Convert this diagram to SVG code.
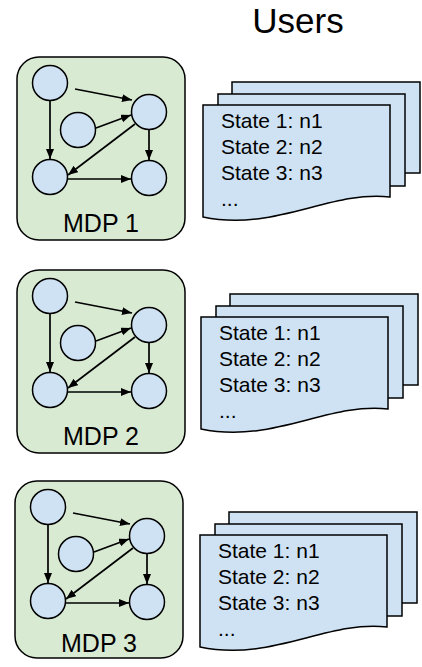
<svg xmlns="http://www.w3.org/2000/svg" width="422" height="667" viewBox="0 0 422 667">
<defs>
<style>
.box{fill:#d9ead3;stroke:#000;stroke-width:1.5}
.st{fill:#cfe2f3;stroke:#000;stroke-width:1.5}
.pg{fill:#cfe2f3;stroke:#000;stroke-width:1.5}
.e{stroke:#000;stroke-width:1.7;fill:none;marker-end:url(#ah)}
.lbl{font-family:"Liberation Sans",Arial,sans-serif;font-size:25px;fill:#000;text-anchor:middle}
.dt{font-family:"Liberation Sans",Arial,sans-serif;font-size:21px;fill:#000}
.ttl{font-family:"Liberation Sans",Arial,sans-serif;font-size:35px;fill:#000;text-anchor:middle}
</style>
<marker id="ah" markerUnits="userSpaceOnUse" markerWidth="11" markerHeight="9" refX="10" refY="4" orient="auto">
<path d="M0,0 L10,4 L0,8 z" fill="#000"/>
</marker>
</defs>
<rect width="422" height="667" fill="#fff"/>
<text class="ttl" x="298" y="33">Users</text>

<g id="mdp1">
<rect class="box" x="17" y="57" width="168" height="183" rx="22"/>
<circle class="st" cx="50" cy="83" r="17.5"/>
<circle class="st" cx="149" cy="112" r="17.5"/>
<circle class="st" cx="78" cy="130" r="17.5"/>
<circle class="st" cx="50" cy="177" r="17.5"/>
<circle class="st" cx="149" cy="178" r="17.5"/>
<g class="edges">
<line class="e" x1="50" y1="101" x2="50" y2="159"/>
<line class="e" x1="75" y1="89" x2="132" y2="100"/>
<line class="e" x1="96" y1="128" x2="131" y2="115"/>
<line class="e" x1="135" y1="124" x2="68" y2="175"/>
<line class="e" x1="68" y1="179" x2="131" y2="179"/>
<line class="e" x1="149" y1="130" x2="149" y2="160"/>
</g>
<text class="lbl" x="101" y="232">MDP 1</text>
</g>

<g id="mdp2" transform="translate(0,213)">
<rect class="box" x="17" y="57" width="168" height="183" rx="22"/>
<circle class="st" cx="50" cy="83" r="17.5"/>
<circle class="st" cx="149" cy="112" r="17.5"/>
<circle class="st" cx="78" cy="130" r="17.5"/>
<circle class="st" cx="50" cy="177" r="17.5"/>
<circle class="st" cx="149" cy="178" r="17.5"/>
<g class="edges">
<line class="e" x1="50" y1="101" x2="50" y2="159"/>
<line class="e" x1="75" y1="89" x2="132" y2="100"/>
<line class="e" x1="96" y1="128" x2="131" y2="115"/>
<line class="e" x1="135" y1="124" x2="68" y2="175"/>
<line class="e" x1="68" y1="179" x2="131" y2="179"/>
<line class="e" x1="149" y1="130" x2="149" y2="160"/>
</g>
<text class="lbl" x="101" y="232">MDP 2</text>
</g>

<g id="mdp3" transform="translate(-2,424)">
<rect class="box" x="17" y="57" width="168" height="177" rx="22"/>
<circle class="st" cx="50" cy="83" r="17.5"/>
<circle class="st" cx="149" cy="112" r="17.5"/>
<circle class="st" cx="78" cy="130" r="17.5"/>
<circle class="st" cx="50" cy="177" r="17.5"/>
<circle class="st" cx="149" cy="178" r="17.5"/>
<g class="edges">
<line class="e" x1="50" y1="101" x2="50" y2="159"/>
<line class="e" x1="75" y1="89" x2="132" y2="100"/>
<line class="e" x1="96" y1="128" x2="131" y2="115"/>
<line class="e" x1="135" y1="124" x2="68" y2="175"/>
<line class="e" x1="68" y1="179" x2="131" y2="179"/>
<line class="e" x1="149" y1="130" x2="149" y2="160"/>
</g>
<text class="lbl" x="101" y="228">MDP 3</text>
</g>

<g id="users1">
<rect class="pg" x="232" y="82" width="188" height="91"/>
<rect class="pg" x="218" y="94" width="187" height="92"/>
<path class="pg" d="M203,105 H390 V197 C330,190 275,232 203,217 Z"/>
<text class="dt" x="221" y="128">State 1: n1</text>
<text class="dt" x="221" y="154">State 2: n2</text>
<text class="dt" x="221" y="180">State 3: n3</text>
<text class="dt" x="221" y="206">...</text>
</g>

<g id="users2" transform="translate(-2,212)">
<rect class="pg" x="232" y="82" width="188" height="91"/>
<rect class="pg" x="218" y="94" width="187" height="92"/>
<path class="pg" d="M203,105 H390 V197 C330,190 275,232 203,217 Z"/>
<text class="dt" x="221" y="128">State 1: n1</text>
<text class="dt" x="221" y="154">State 2: n2</text>
<text class="dt" x="221" y="180">State 3: n3</text>
<text class="dt" x="221" y="206">...</text>
</g>

<g id="users3" transform="translate(-3,430)">
<rect class="pg" x="232" y="82" width="188" height="91"/>
<rect class="pg" x="218" y="94" width="187" height="92"/>
<path class="pg" d="M203,105 H390 V197 C330,190 275,232 203,217 Z"/>
<text class="dt" x="221" y="128">State 1: n1</text>
<text class="dt" x="221" y="154">State 2: n2</text>
<text class="dt" x="221" y="180">State 3: n3</text>
<text class="dt" x="221" y="206">...</text>
</g>
</svg>
